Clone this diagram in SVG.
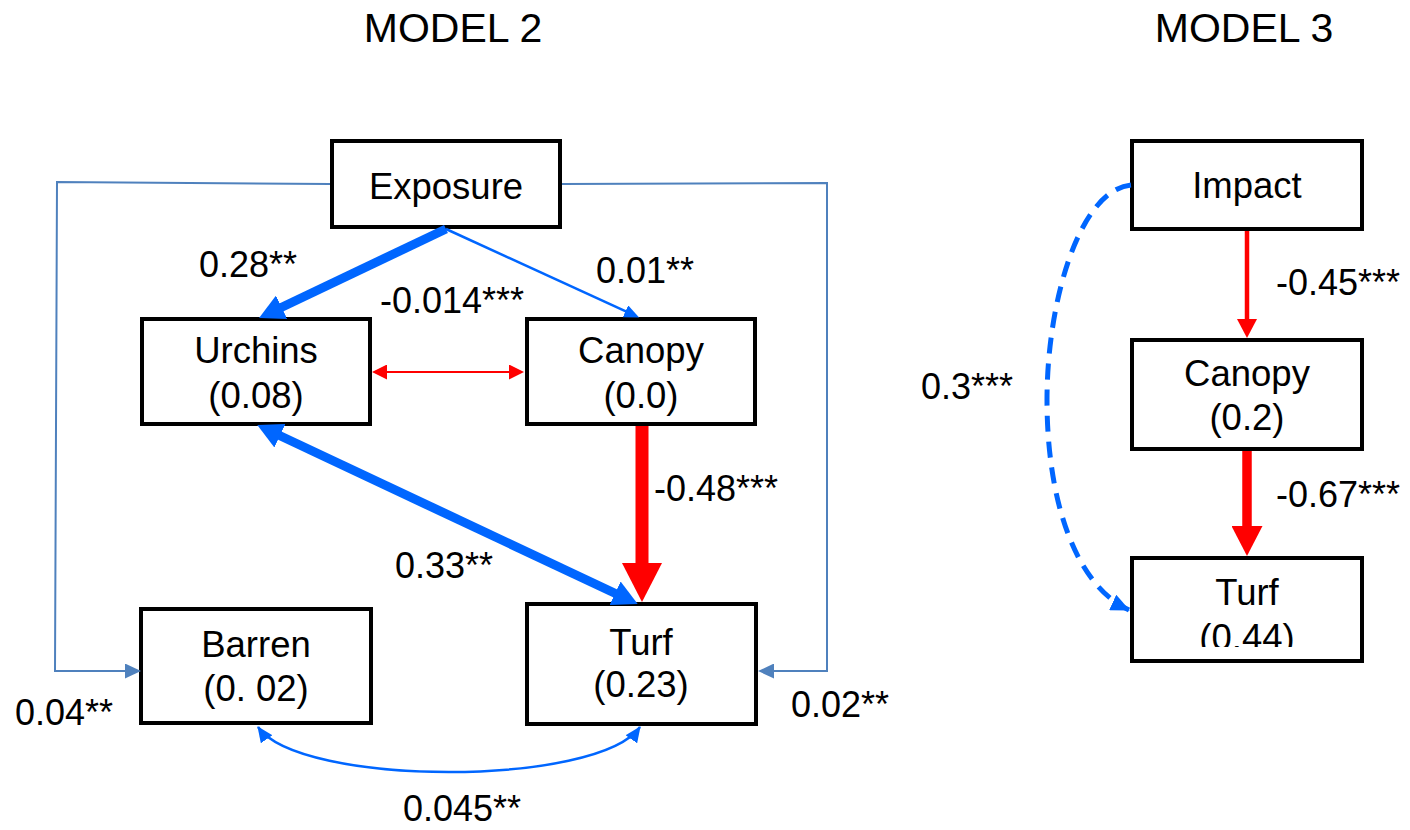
<svg xmlns="http://www.w3.org/2000/svg" width="1410" height="830" viewBox="0 0 1410 830">
  <style>
    text { font-family: "Liberation Sans", Arial, sans-serif; fill: #000; }
    .title { font-size: 41px; text-anchor: middle; }
    .node rect { fill: #fff; stroke: #000; stroke-width: 4; }
    .node text { font-size: 36.5px; text-anchor: middle; }
    .lbl { font-size: 36px; }
    .conn { fill: none; }
  </style>
  <defs>
    <!-- base-anchored heads: marker starts where the line ends -->
    <marker id="hBlueL" markerUnits="userSpaceOnUse" viewBox="0 0 25 26" markerWidth="25" markerHeight="26" refX="1" refY="13" orient="auto-start-reverse">
      <path d="M0,0 L25,13 L0,26 z" fill="#0066FF"/>
    </marker>
    <marker id="hBlueS" markerUnits="userSpaceOnUse" viewBox="0 0 15 13" markerWidth="15" markerHeight="13" refX="1" refY="6.5" orient="auto-start-reverse">
      <path d="M0,0 L15,6.5 L0,13 z" fill="#0066FF"/>
    </marker>
    <marker id="hRedS" markerUnits="userSpaceOnUse" viewBox="0 0 15 15" markerWidth="15" markerHeight="15" refX="1" refY="7.5" orient="auto-start-reverse">
      <path d="M0,0 L15,7.5 L0,15 z" fill="#FF0000"/>
    </marker>
    <marker id="hRedL" markerUnits="userSpaceOnUse" viewBox="0 0 39 40" markerWidth="39" markerHeight="40" refX="1" refY="20" orient="auto">
      <path d="M0,0 L39,20 L0,40 z" fill="#FF0000"/>
    </marker>
    <marker id="hRedM" markerUnits="userSpaceOnUse" viewBox="0 0 19 20" markerWidth="19" markerHeight="20" refX="1" refY="10" orient="auto">
      <path d="M0,0 L19,10 L0,20 z" fill="#FF0000"/>
    </marker>
    <marker id="hRedM2" markerUnits="userSpaceOnUse" viewBox="0 0 30 31" markerWidth="30" markerHeight="31" refX="1" refY="15.5" orient="auto">
      <path d="M0,0 L30,15.5 L0,31 z" fill="#FF0000"/>
    </marker>
    <marker id="hSteel" markerUnits="userSpaceOnUse" viewBox="0 0 16 15" markerWidth="16" markerHeight="15" refX="1" refY="7.5" orient="auto">
      <path d="M0,0 L16,7.5 L0,15 z" fill="#4F81BD"/>
    </marker>
    <!-- tip-anchored heads for curved connectors -->
    <marker id="tBlue" markerUnits="userSpaceOnUse" viewBox="0 0 16 14" markerWidth="16" markerHeight="14" refX="15" refY="7" orient="auto-start-reverse">
      <path d="M0,0 L16,7 L0,14 z" fill="#0066FF"/>
    </marker>
    <marker id="tBlueD" markerUnits="userSpaceOnUse" viewBox="0 0 19 17" markerWidth="19" markerHeight="17" refX="18" refY="8.5" orient="auto">
      <path d="M0,0 L19,8.5 L0,17 z" fill="#0066FF"/>
    </marker>
    <clipPath id="clipTurf3">
      <rect x="1130" y="556" width="234" height="91"/>
    </clipPath>
  </defs>

  <text class="title" x="453" y="42">MODEL 2</text>
  <text class="title" x="1244" y="42">MODEL 3</text>

  <!-- nodes, model 2 -->
  <g id="exposure" class="node">
    <rect x="332" y="141" width="228" height="86"/>
    <text x="446" y="199">Exposure</text>
  </g>
  <g id="urchins" class="node">
    <rect x="142" y="319" width="228" height="105"/>
    <text x="256" y="363">Urchins</text>
    <text x="256" y="408">(0.08)</text>
  </g>
  <g id="canopy" class="node">
    <rect x="527" y="319" width="228" height="105"/>
    <text x="641" y="363">Canopy</text>
    <text x="641" y="408">(0.0)</text>
  </g>
  <g id="barren" class="node">
    <rect x="141" y="609" width="230" height="114"/>
    <text x="256" y="657">Barren</text>
    <text x="256" y="701">(0. 02)</text>
  </g>
  <g id="turf" class="node">
    <rect x="527" y="604" width="229" height="120"/>
    <text x="641" y="655">Turf</text>
    <text x="641" y="697">(0.23)</text>
  </g>

  <!-- nodes, model 3 -->
  <g id="impact" class="node">
    <rect x="1132" y="141" width="230" height="88"/>
    <text x="1247" y="198">Impact</text>
  </g>
  <g id="canopy3" class="node">
    <rect x="1132" y="340" width="230" height="109"/>
    <text x="1247" y="386">Canopy</text>
    <text x="1247" y="430">(0.2)</text>
  </g>
  <g id="turf3" class="node">
    <rect x="1132" y="558" width="230" height="103"/>
    <text x="1247" y="605">Turf</text>
    <text x="1247" y="650" clip-path="url(#clipTurf3)">(0.44)</text>
  </g>

  <!-- connectors -->
  <g id="connectors" class="conn">
    <!-- Exposure -> Urchins -->
    <path d="M446,229 L280.7,307.7" stroke="#0066FF" stroke-width="9" marker-end="url(#hBlueL)"/>
    <!-- Exposure -> Canopy -->
    <path d="M446,229 L626.4,311.7" stroke="#0066FF" stroke-width="2.5" marker-end="url(#hBlueS)"/>
    <!-- Urchins <-> Canopy -->
    <path d="M386,372 L510,372" stroke="#FF0000" stroke-width="2" marker-start="url(#hRedS)" marker-end="url(#hRedS)"/>
    <!-- Canopy -> Turf -->
    <path d="M642,426 L642,564" stroke="#FF0000" stroke-width="13" marker-end="url(#hRedL)"/>
    <!-- Urchins <-> Turf -->
    <path d="M279,435.3 L616,593.7" stroke="#0066FF" stroke-width="9" marker-start="url(#hBlueL)" marker-end="url(#hBlueL)"/>
    <!-- Exposure -> Barren -->
    <path d="M330,184 L57,182 L55,671 L126,671" stroke="#4F81BD" stroke-width="2" marker-end="url(#hSteel)"/>
    <!-- Exposure -> Turf -->
    <path d="M562,184 L827,183 L827,671 L773,671" stroke="#4F81BD" stroke-width="2" marker-end="url(#hSteel)"/>
    <!-- Barren <-> Turf -->
    <path d="M258,727 C300,787 598,787 640,727" stroke="#0066FF" stroke-width="2.5" marker-start="url(#tBlue)" marker-end="url(#tBlue)"/>
    <!-- Impact -> Canopy -->
    <path d="M1247,231 L1247,320" stroke="#FF0000" stroke-width="4.5" marker-end="url(#hRedM)"/>
    <!-- Canopy -> Turf (model 3) -->
    <path d="M1247,451 L1247,527" stroke="#FF0000" stroke-width="9.5" marker-end="url(#hRedM2)"/>
    <!-- Impact -> Turf (dashed) -->
    <path d="M1131,185 C1080,190 1047,300 1047,400 C1047,500 1075,585 1129,610" stroke="#0066FF" stroke-width="5" stroke-dasharray="16 10" marker-end="url(#tBlueD)"/>
  </g>

  <!-- path coefficients -->
  <g id="labels">
    <text class="lbl" x="199" y="277">0.28**</text>
    <text class="lbl" x="380" y="313">-0.014***</text>
    <text class="lbl" x="596" y="283">0.01**</text>
    <text class="lbl" x="395" y="578">0.33**</text>
    <text class="lbl" x="654" y="501">-0.48***</text>
    <text class="lbl" x="403" y="821">0.045**</text>
    <text class="lbl" x="15" y="725">0.04**</text>
    <text class="lbl" x="791" y="717">0.02**</text>
    <text class="lbl" x="1276" y="295">-0.45***</text>
    <text class="lbl" x="921" y="399">0.3***</text>
    <text class="lbl" x="1276" y="507">-0.67***</text>
  </g>
</svg>
